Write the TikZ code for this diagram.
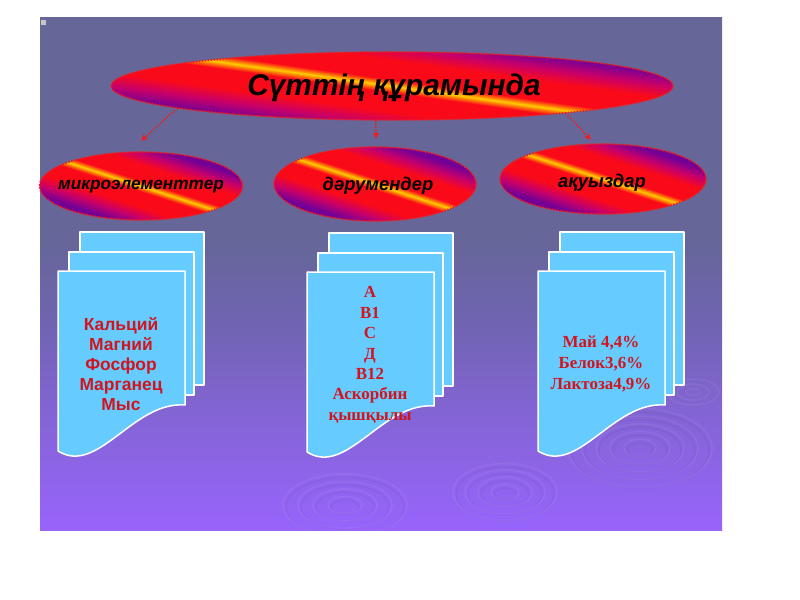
\documentclass[tikz,border=0pt]{standalone}
\usepackage{fontspec}
\setmainfont{Liberation Serif}
\setsansfont{Liberation Sans}
\usetikzlibrary{shapes.geometric,arrows.meta}
\definecolor{bgtop}{RGB}{102,102,153}
\definecolor{bgmid}{RGB}{112,100,178}
\definecolor{bglow}{RGB}{130,100,210}
\definecolor{bgbot}{RGB}{152,100,252}
\definecolor{firepur}{RGB}{115,0,150}
\definecolor{firemag}{RGB}{200,0,105}
\definecolor{firered}{RGB}{250,10,25}
\definecolor{fireorg}{RGB}{255,110,10}
\definecolor{fireyel}{RGB}{255,205,0}
\definecolor{pagefill}{RGB}{102,204,255}
\definecolor{txtred}{RGB}{210,20,30}
\definecolor{dotred}{RGB}{245,25,25}
\pgfdeclareverticalshading{slidebg}{100bp}{color(0bp)=(bgbot); color(25bp)=(bgbot); color(37bp)=(bglow); color(45bp)=(bgmid); color(53bp)=(bgtop); color(100bp)=(bgtop)}
\pgfdeclareverticalshading{fire}{100bp}{color(0bp)=(firepur); color(30bp)=(firepur); color(35bp)=(firemag); color(40bp)=(firered); color(47.5bp)=(firered); color(48.8bp)=(fireorg); color(50bp)=(fireyel); color(51.2bp)=(fireorg); color(52.5bp)=(firered); color(60bp)=(firered); color(65bp)=(firemag); color(70bp)=(firepur); color(100bp)=(firepur)}
\tikzset{
  fireell/.style={ellipse, inner sep=0pt, shading=fire, shading angle=-18,
    draw=dotred, line width=2.1bp, dash pattern=on 0.1bp off 2.9bp, line cap=round},
  elltext/.style={font=\sffamily\bfseries\itshape\fontsize{18.5}{20}\selectfont, text=black, inner sep=0pt},
  arr/.style={dotred, line width=2bp, dash pattern=on 0.1bp off 3bp, line cap=round,
    -{Latex[length=6bp,width=6.5bp]}},
  pagebox/.style={fill=pagefill, draw=white, line width=1.5bp, line join=round},
  sanslist/.style={font=\sffamily\bfseries\fontsize{17.5}{20}\selectfont, text=txtred, align=center, inner sep=0pt},
  seriflist/.style={font=\rmfamily\bfseries\fontsize{17}{20.5}\selectfont, text=txtred, align=center, inner sep=0pt},
  ring/.style={draw=white, draw opacity=0.06, line width=1.6bp},
  ringd/.style={draw=black, draw opacity=0.045, line width=1.2bp}
}
\newcommand\pagestack[2]{%
  \begin{scope}[shift={(#1,#2)}]
    \draw[pagebox] (22,-39) rectangle (146,114);
    \draw[pagebox] (11,-19) rectangle (136,124);
    \draw[pagebox] (0,0) -- (127,0) -- (127,134)
      .. controls (75,130) and (40,205) .. (0,180) -- cycle;
  \end{scope}}
\begin{document}
\begin{tikzpicture}[x=1bp,y=-1bp]
\useasboundingbox (0,0) rectangle (800,600);
\fill[white] (0,0) rectangle (800,600);
% slide background
\fill[shading=slidebg] (40,18) rectangle (722,530);
\fill[gray!45] (41,20) rectangle (46,25);
% ripples
\begin{scope}
  \clip (40,18) rectangle (722,530);
  \foreach \r in {72,58,44,30,16}{\draw[ring] (640,448) ellipse ({\r} and {0.55*\r});
    \draw[ringd] (640,450) ellipse ({\r-3} and {0.55*(\r-3)});}
  \foreach \r in {52,40,27,14}{\draw[ring] (505,492) ellipse ({\r} and {0.55*\r});
    \draw[ringd] (505,494) ellipse ({\r-3} and {0.55*(\r-3)});}
  \foreach \r in {62,47,32,17}{\draw[ring] (345,505) ellipse ({\r} and {0.5*\r});
    \draw[ringd] (345,507) ellipse ({\r-3} and {0.5*(\r-3)});}
  \foreach \r in {26,16,7}{\draw[ring] (693,392) ellipse ({\r} and {0.5*\r});}
\end{scope}
% top ellipse
\node[fireell, shading angle=-8, minimum width=562bp, minimum height=68bp] (top) at (392,86) {};
\node[font=\sffamily\bfseries\itshape\fontsize{30}{32}\selectfont, inner sep=0pt] (title) at (394,88) {Сүттің құрамында};
% sub ellipses
\node[fireell, minimum width=203bp, minimum height=68bp] (e1) at (141,186) {};
\node[fireell, minimum width=202bp, minimum height=74bp] (e2) at (375,184) {};
\node[fireell, minimum width=206bp, minimum height=70bp] (e3) at (603,179) {};
\node[elltext, font=\sffamily\bfseries\itshape\fontsize{17.3}{20}\selectfont] (l1) at (141,187) {микроэлементтер};
\node[elltext] (l2) at (378,186) {дәрумендер};
\node[elltext] (l3) at (602,183) {ақуыздар};
% arrows
\coordinate (a1) at (141,141);
\coordinate (a2) at (376,139);
\coordinate (a3) at (591,140);
\draw[arr] (top.186) -- (a1);
\draw[arr] (top.245) -- (a2);
\draw[arr] (top.351) -- (a3);
% page stacks
\pagestack{58}{271}
\pagestack{307}{272}
\pagestack{538}{271}
\node[sanslist] (p1) at (121,364) {Кальций\\Магний\\Фосфор\\Марганец\\Мыс};
\node[seriflist] (p2) at (370,355) {А\\В1\\С\\Д\\В12\\Аскорбин\\қышқылы};
\node[seriflist, font=\rmfamily\bfseries\fontsize{17}{21}\selectfont] (p3) at (601,364) {Май 4,4\%\\Белок3,6\%\\Лактоза4,9\%};
\end{tikzpicture}
\end{document}
